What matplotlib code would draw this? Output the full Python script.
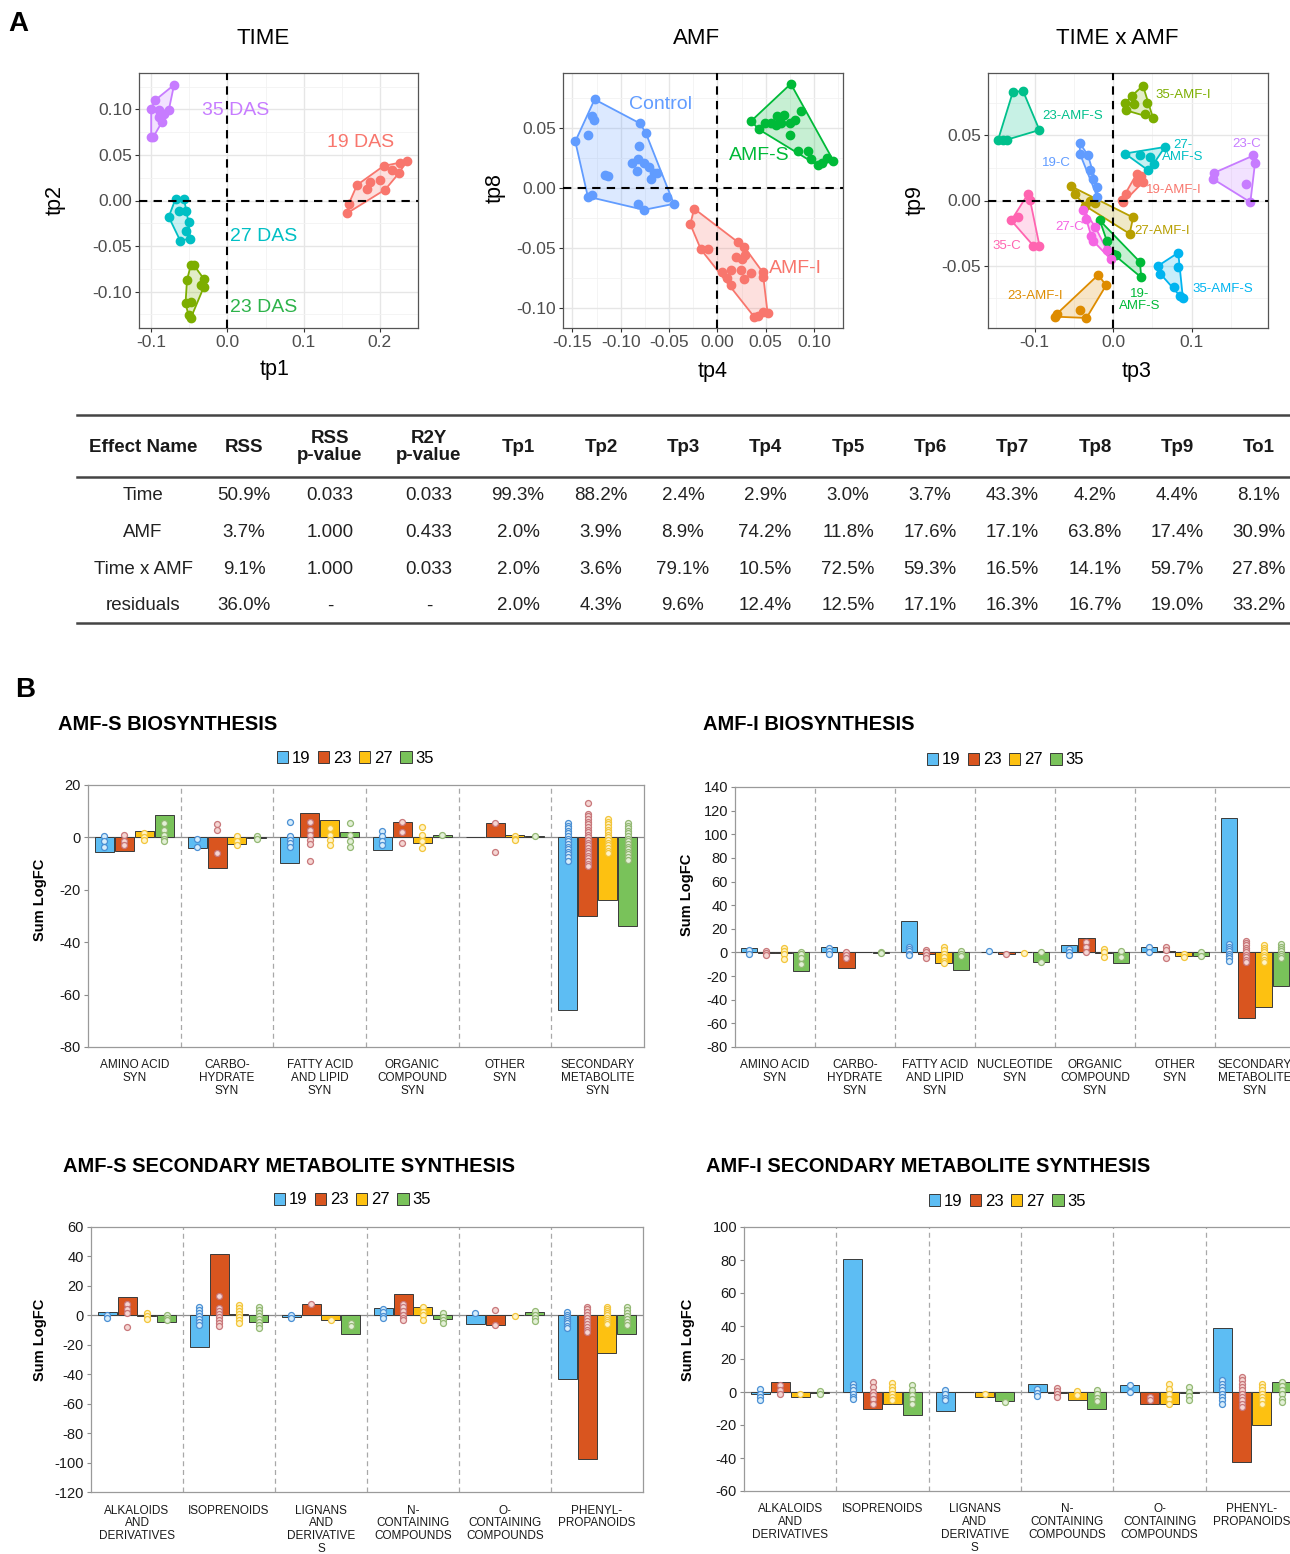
import numpy as np
import matplotlib.pyplot as plt
from matplotlib.patches import Patch, Polygon
from matplotlib.lines import Line2D
from matplotlib.ticker import FormatStrFormatter

plt.rcParams['font.family'] = ['Liberation Sans', 'DejaVu Sans']
plt.rcParams['axes.unicode_minus'] = False

W, H = 1290, 1554

# ---------------- panel A : OPLS score plots ----------------
# TIME (tp1, tp2)
das19 = [(0.235, 0.043), (0.227, 0.041), (0.205, 0.038), (0.216, 0.033), (0.200, 0.022), (0.187, 0.020),
         (0.183, 0.013), (0.170, 0.017), (0.207, 0.012), (0.159, -0.004), (0.157, -0.014), (0.225, 0.030)]
das23 = [(-0.048, -0.071), (-0.044, -0.071), (-0.031, -0.086), (-0.053, -0.087), (-0.035, -0.093),
         (-0.031, -0.095), (-0.055, -0.113), (-0.048, -0.111), (-0.051, -0.126), (-0.048, -0.129)]
das27 = [(-0.068, 0.002), (-0.057, 0.002), (-0.064, -0.011), (-0.055, -0.011), (-0.077, -0.018),
         (-0.051, -0.024), (-0.062, -0.044), (-0.049, -0.042), (-0.055, -0.033)]
das35 = [(-0.070, 0.127), (-0.095, 0.110), (-0.100, 0.101), (-0.090, 0.099), (-0.077, 0.099), (-0.083, 0.095),
         (-0.086, 0.086), (-0.097, 0.070), (-0.100, 0.070), (-0.090, 0.092)]
time_labels = ['19 DAS', '23 DAS', '27 DAS', '35 DAS']
time_label_pos = [(0.174, 0.064), (0.048, -0.118), (0.048, -0.040), (0.011, 0.099)]

# AMF (tp4, tp8)
amf_control = [(-0.127, 0.074), (-0.130, 0.060), (-0.128, 0.057), (-0.134, 0.044), (-0.147, 0.039), (-0.080, 0.054),
               (-0.074, 0.046), (-0.081, 0.035), (-0.082, 0.024), (-0.088, 0.021), (-0.076, 0.021), (-0.071, 0.018),
               (-0.083, 0.014), (-0.116, 0.011), (-0.113, 0.010), (-0.066, 0.013), (-0.062, 0.013), (-0.069, 0.008),
               (-0.130, -0.006), (-0.134, -0.007), (-0.052, -0.007), (-0.045, -0.013), (-0.082, -0.013), (-0.076, -0.018)]
amf_s = [(0.076, 0.087), (0.035, 0.056), (0.043, 0.049), (0.049, 0.054), (0.062, 0.060), (0.069, 0.061),
         (0.075, 0.054), (0.066, 0.054), (0.080, 0.057), (0.087, 0.064), (0.075, 0.044), (0.083, 0.031),
         (0.094, 0.031), (0.097, 0.024), (0.108, 0.021), (0.113, 0.025), (0.120, 0.023), (0.104, 0.019),
         (0.055, 0.054), (0.061, 0.053)]
amf_i = [(-0.024, -0.017), (-0.028, -0.030), (-0.017, -0.051), (-0.010, -0.051), (0.021, -0.045), (0.028, -0.049),
         (0.029, -0.056), (0.019, -0.057), (0.026, -0.059), (0.014, -0.068), (0.024, -0.068), (0.035, -0.071),
         (0.047, -0.070), (0.047, -0.074), (0.005, -0.070), (0.010, -0.075), (0.028, -0.076), (0.014, -0.081),
         (0.038, -0.107), (0.047, -0.103), (0.052, -0.104), (0.042, -0.106)]
amf_labels = ['Control', 'AMF-S', 'AMF-I']
amf_label_pos = [(-0.059, 0.070), (0.043, 0.027), (0.081, -0.067)]

# TIME x AMF (tp3, tp9)
t19_amf_i = [(0.030, 0.0204), (0.036, 0.0184), (0.030, 0.014), (0.038, 0.014), (0.017, 0.005), (0.011, 0.0005), (0.013, -0.0013)]
t23_amf_i = [(-0.019, -0.057), (-0.009, -0.065), (-0.072, -0.087), (-0.0745, -0.089), (-0.0425, -0.084), (-0.034, -0.090)]
t27_amf_i = [(-0.054, 0.011), (-0.049, 0.005), (-0.030, 0.0), (-0.023, -0.002), (0.0255, -0.013), (0.021, -0.0255), (-0.036, -0.004)]
t35_amf_i = [(0.038, 0.088), (0.0235, 0.080), (0.043, 0.075), (0.015, 0.0745), (0.017, 0.069), (0.040, 0.066), (0.051, 0.063), (0.026, 0.074)]
t19_amf_s = [(-0.017, -0.0153), (-0.008, -0.031), (0.004, -0.042), (0.034, -0.047), (0.036, -0.059), (0.0, -0.041)]
t23_amf_s = [(-0.128, 0.083), (-0.115, 0.084), (-0.094, 0.054), (-0.147, 0.046), (-0.136, 0.0465), (-0.140, 0.046)]
t27_amf_s = [(0.015, 0.036), (0.034, 0.035), (0.066, 0.041), (0.047, 0.033), (0.045, 0.023), (0.0515, 0.028)]
t35_amf_s = [(0.083, -0.040), (0.0575, -0.050), (0.060, -0.056), (0.083, -0.051), (0.085, -0.073), (0.089, -0.075), (0.077, -0.066)]
t19_c = [(-0.0425, 0.044), (-0.0425, 0.036), (-0.032, 0.0345), (-0.030, 0.023), (-0.0255, 0.0166), (-0.020, 0.010), (-0.020, 0.0025)]
t23_c = [(0.179, 0.0345), (0.181, 0.029), (0.128, 0.021), (0.127, 0.0166), (0.1695, 0.0128), (0.175, -0.0013)]
t27_c = [(-0.038, -0.007), (-0.034, -0.014), (-0.023, -0.020), (-0.028, -0.027), (-0.0255, -0.031), (-0.008, -0.038), (-0.003, -0.045)]
t35_c = [(-0.109, 0.0046), (-0.106, 0.0005), (-0.130, -0.0153), (-0.121, -0.0128), (-0.102, -0.0345), (-0.094, -0.0345)]
txa_labels = ['19-AMF-I', '23-AMF-I', '27-AMF-I', '35-AMF-I', '19-\nAMF-S', '23-AMF-S', '27-\nAMF-S', '35-AMF-S',
              '19-C', '23-C', '27-C', '35-C']
txa_label_pos = [(0.077, 0.0077), (-0.100, -0.0735), (0.062, -0.023), (0.089, 0.081), (0.034, -0.076), (-0.051, 0.065),
                 (0.089, 0.038), (0.1405, -0.0676), (-0.072, 0.029), (0.170, 0.043), (-0.056, -0.0204), (-0.136, -0.0352)]

# ---------------- panel A : table ----------------
table_header = ['Effect Name', 'RSS', 'RSS\np-value', 'R2Y\np-value', 'Tp1', 'Tp2', 'Tp3', 'Tp4', 'Tp5',
                'Tp6', 'Tp7', 'Tp8', 'Tp9', 'To1']
row_time = ['Time', '50.9%', '0.033', '0.033', '99.3%', '88.2%', '2.4%', '2.9%', '3.0%', '3.7%', '43.3%', '4.2%', '4.4%', '8.1%']
row_amf = ['AMF', '3.7%', '1.000', '0.433', '2.0%', '3.9%', '8.9%', '74.2%', '11.8%', '17.6%', '17.1%', '63.8%', '17.4%', '30.9%']
row_txa = ['Time x AMF', '9.1%', '1.000', '0.033', '2.0%', '3.6%', '79.1%', '10.5%', '72.5%', '59.3%', '16.5%', '14.1%', '59.7%', '27.8%']
row_res = ['residuals', '36.0%', '-', '-', '2.0%', '4.3%', '9.6%', '12.4%', '12.5%', '17.1%', '16.3%', '16.7%', '19.0%', '33.2%']

# ---------------- panel B : Sum LogFC bars ----------------
series_names = ['19', '23', '27', '35']

bio_s_cats = ['AMINO ACID\nSYN', 'CARBO-\nHYDRATE\nSYN', 'FATTY ACID\nAND LIPID\nSYN', 'ORGANIC\nCOMPOUND\nSYN',
              'OTHER\nSYN', 'SECONDARY\nMETABOLITE\nSYN']
bio_s_19 = [-5.5, -4.2, -9.9, -4.7, 0, -66]
bio_s_23 = [-5.2, -11.6, 9.4, 6.0, 5.6, -30]
bio_s_27 = [2.3, -2.4, 6.6, -2.3, 0.8, -24]
bio_s_35 = [8.4, -0.3, 1.9, 1.0, 0.6, -34]
bio_s_dots_19 = [[0.5, -1.5, -3.5], [-0.5, -3.5], [6.0, 0.5, -1.0, -2.0, -3.5], [2.5, 0.5, -1.5, -3.0], [],
                 [5.5, 4.5, 3.5, 2.5, 1.5, 0.5, -0.5, -1.5, -2.5, -3.5, -4.5, -5.5, -6.5, -7.5, -9.0]]
bio_s_dots_23 = [[1.0, -1.5, -3.0], [5.0, 3.0, -6.0], [6.0, 3.0, 1.0, -1.0, -2.5, -9.0], [6.0, 2.0, -2.0], [5.5, -5.5],
                 [13, 9, 8, 7, 6, 5, 4, 3, 2, 1, 0, -1, -2, -3, -4, -5, -6, -7, -8, -9, -10, -11]]
bio_s_dots_27 = [[1.5, 0.0, -1.0], [0.5, -1.5, -3.0], [3.5, 1.0, -1.0, -3.0], [4.0, 1.0, -1.5, -4.0], [0.5, -0.5, -1.0],
                 [7, 6, 5, 4, 3, 2, 1, 0, -1, -2, -3, -4, -5, -6]]
bio_s_dots_35 = [[5.5, 3.0, 1.0, -0.5, -1.5], [0.5, -0.5], [5.5, 1.0, -1.5, -3.5], [1.0], [0.5],
                 [5.5, 4.5, 3.5, 2.5, 1.5, 0.5, -0.5, -1.5, -2.5, -3.5, -4.5, -5.5, -6.5, -7.5, -8.5]]

bio_i_cats = ['AMINO ACID\nSYN', 'CARBO-\nHYDRATE\nSYN', 'FATTY ACID\nAND LIPID\nSYN', 'NUCLEOTIDE\nSYN',
              'ORGANIC\nCOMPOUND\nSYN', 'OTHER\nSYN', 'SECONDARY\nMETABOLITE\nSYN']
bio_i_19 = [3.7, 5.0, 27.0, 0.5, 6.5, 5.0, 114]
bio_i_23 = [-0.5, -13.3, -1.2, -1.5, 12.4, 1.2, -55.6]
bio_i_27 = [-0.5, 0, -9.0, 0, -0.5, -3.4, -46]
bio_i_35 = [-16, -0.5, -15, -8.5, -9, -3.4, -28.7]
bio_i_dots_19 = [[2, -1], [4, 1.5, -1], [5, 3, 1, -1, -2.5], [1], [3, 0.5, -2.5], [5, 0.5], [7, 5, 3, 1, -1, -3, -5, -7]]
bio_i_dots_23 = [[1.5, -0.5, -2], [0, -2, -4.5], [2, 0, -2, -4.5], [-1], [9, 5, 0.5], [5, 2, -5],
                 [10, 8, 6, 4, 2, 0, -2, -4, -6, -8]]
bio_i_dots_27 = [[4, 1.5, -1, -5.5], [], [5, 2, -1, -4, -7, -9], [-0.5], [3, 0, -4], [-1.5, -3.5],
                 [6, 4, 2, 0, -2, -4, -6, -8]]
bio_i_dots_35 = [[0.5, -1.5, -4.5, -9.5], [0.5, -0.5], [1, -1, -3], [0, -8], [1, -4], [0, -3], [7, 5, 3, 1, -1, -3, -5]]

sec_cats = ['ALKALOIDS\nAND\nDERIVATIVES', 'ISOPRENOIDS', 'LIGNANS\nAND\nDERIVATIVE\nS', 'N-\nCONTAINING\nCOMPOUNDS',
            'O-\nCONTAINING\nCOMPOUNDS', 'PHENYL-\nPROPANOIDS']
sec_s_19 = [2.3, -21.4, -1.1, 4.7, -5.9, -43.4]
sec_s_23 = [12.2, 41.6, 7.4, 14.2, -6.3, -97.9]
sec_s_27 = [-0.5, 1.1, -3.4, 5.4, 0, -25.7]
sec_s_35 = [-4.7, -4.3, -12.4, -2.7, 2.0, -12.4]
sec_s_dots_19 = [[0.5, -1.5], [5.5, 3.5, 1.5, -0.5, -2.5, -4.5, -6.5], [0.5, -1.5], [4.5, 2, -0.5, -2], [1.5],
                 [2, 0.5, -1, -2.5, -4, -5.5, -7, -8.5]]
sec_s_dots_23 = [[8, 4.5, 1.5, -8], [13, 5, 3, 1, -1, -3, -5, -7], [7.5], [7.5, 5.5, 3, 0.5, -1.5, -3], [3.5, -6.5],
                 [6, 4, 2, 0, -2, -4, -6, -8, -10, -11.5]]
sec_s_dots_27 = [[1.5, -0.5, -2.5], [7, 5, 3, 1, -1, -3, -5], [-3.5], [5.5, 2.5, 0, -3], [-0.5],
                 [6, 4.5, 3, 1.5, 0, -1.5, -3, -4.5, -6]]
sec_s_dots_35 = [[0.5, -1.5, -3], [5.5, 3.5, 1.5, -0.5, -2.5, -4.5, -6.5, -8.5], [-5, -7], [1.5, -1, -3, -5],
                 [3, 0.5, -2, -4], [5.5, 3.5, 1.5, -0.5, -2.5, -4.5, -6.5]]

sec_i_19 = [-1.4, 80.9, -11.4, 4.9, 4.3, 38.8]
sec_i_23 = [5.9, -10.2, 0, -0.8, -7.3, -42.3]
sec_i_27 = [-2.8, -7.1, -3.3, -4.9, -7.1, -19.9]
sec_i_35 = [-0.8, -13.8, -5.7, -10, -0.6, 5.9]
sec_i_dots_19 = [[2, -1, -3, -5], [5, 3, 1, -1, -3, -4], [1, -1.5, -3.5, -5], [2, -0.5, -2.5], [4, 0],
                 [7, 5, 3, 1, -1, -3, -5, -7.5]]
sec_i_dots_23 = [[4.5, 1.5, -1.5], [6, 3, 0, -2, -4, -7], [], [2.5, 0.5, -1.5, -3], [-3, -5],
                 [9, 7, 5, 3, 1, -1, -3, -5, -7, -9]]
sec_i_dots_27 = [[-1.5], [5.5, 3, 1, -1, -3, -5], [-1.5], [0.5, -2], [5, 2, -1, -4, -7.5], [5, 3, 1, -1, -3, -5, -7.5]]
sec_i_dots_35 = [[0.5, -1], [4, 1, -2, -4, -7], [-6], [1.5, -1, -3.5, -5.5], [3, 0, -2.5, -5], [6, 3.5, 1, -1.5, -4, -6]]

# ---------------- styling ----------------
bar_cols = ['#5DBDF3', '#D9551F', '#FDC111', '#79C25A']
dot_edge = ['#4A8FD4', '#C8777A', '#F3C53A', '#93B873']
dot_face = ['#D7EDFB', '#F5D6D3', '#FFF4C8', '#E3F0D7']
offsets = [-0.322, -0.107, 0.107, 0.322]

fig = plt.figure(figsize=(W / 100, H / 100), dpi=100)


def box(x0, y0, x1, y1):
    return [x0 / W, 1 - y1 / H, (x1 - x0) / W, (y1 - y0) / H]


def ftext(x, y, s, **kw):
    fig.text(x / W, 1 - y / H, s, **kw)


def hull(pts):
    p = sorted(set(pts))
    if len(p) < 3:
        return p

    def cross(o, a, b):
        return (a[0] - o[0]) * (b[1] - o[1]) - (a[1] - o[1]) * (b[0] - o[0])
    lower, upper = [], []
    for q in p:
        while len(lower) >= 2 and cross(lower[-2], lower[-1], q) <= 0:
            lower.pop()
        lower.append(q)
    for q in reversed(p):
        while len(upper) >= 2 and cross(upper[-2], upper[-1], q) <= 0:
            upper.pop()
        upper.append(q)
    return lower[:-1] + upper[:-1]


def score_panel(bx, groups, colors, xlim, ylim, xticks, yticks, xfmt, yfmt, labels, lpos, lcolors, lsize):
    ax = fig.add_axes(box(*bx))
    ax.set_xticks(xticks)
    ax.set_yticks(yticks)
    dx = xticks[1] - xticks[0]
    dy = yticks[1] - yticks[0]
    ax.set_xticks([t + dx / 2 for t in [xticks[0] - dx] + list(xticks)], minor=True)
    ax.set_yticks([t + dy / 2 for t in [yticks[0] - dy] + list(yticks)], minor=True)
    ax.set_xlim(xlim)
    ax.set_ylim(ylim)
    ax.xaxis.set_major_formatter(FormatStrFormatter(xfmt))
    ax.yaxis.set_major_formatter(FormatStrFormatter(yfmt))
    ax.grid(which='major', color='#E6E6E6', lw=1.0)
    ax.grid(which='minor', color='#F2F2F2', lw=0.6)
    ax.set_axisbelow(True)
    ax.tick_params(which='minor', length=0)
    ax.tick_params(which='major', length=3, color='#333333', labelcolor='#4D4D4D', labelsize=12.5, pad=2)
    for s in ax.spines.values():
        s.set_color('#555555')
        s.set_linewidth(0.9)
    for pts, c in zip(groups, colors):
        h = hull(pts)
        ax.add_patch(Polygon(h, closed=True, fc=c, alpha=0.22, ec='none', zorder=2))
        ax.add_patch(Polygon(h, closed=True, fill=False, ec=c, lw=1.3, zorder=3))
        arr = np.array(pts)
        ax.plot(arr[:, 0], arr[:, 1], 'o', color=c, ms=6, zorder=4)
    ax.axhline(0, color='black', ls=(0, (4, 3)), lw=1.5, zorder=5)
    ax.axvline(0, color='black', ls=(0, (4, 3)), lw=1.5, zorder=5)
    for s, (x, y), c in zip(labels, lpos, lcolors):
        ax.text(x, y, s, color=c, fontsize=lsize, ha='center', va='center', linespacing=1.0, zorder=6)
    return ax


ftext(18, 24, 'A', fontsize=20, weight='bold', ha='center', va='center')
ftext(25, 690, 'B', fontsize=20, weight='bold', ha='center', va='center')

# TIME
score_panel((139, 73, 418, 328), [das19, das23, das27, das35], ['#F8766D', '#7CAE00', '#00BFC4', '#C77CFF'],
            (-0.116, 0.25), (-0.14, 0.14), [-0.1, 0.0, 0.1, 0.2], [-0.10, -0.05, 0.0, 0.05, 0.10], '%.1f', '%.2f',
            time_labels, time_label_pos, ['#F8766D', '#2DB34A', '#00BFC4', '#C77CFF'], 14)
ftext(263, 38, 'TIME', fontsize=16, ha='center', va='center')
ftext(275, 370, 'tp1', fontsize=15.5, ha='center', va='center')
ftext(55, 200, 'tp2', fontsize=15.5, ha='center', va='center', rotation=90)

# AMF
score_panel((563, 73, 843, 328), [amf_control, amf_s, amf_i], ['#619CFF', '#00BA38', '#F8766D'],
            (-0.1597, 0.130), (-0.1164, 0.096), [-0.15, -0.10, -0.05, 0.0, 0.05, 0.10], [-0.10, -0.05, 0.0, 0.05],
            '%.2f', '%.2f', amf_labels, amf_label_pos, ['#619CFF', '#00BA38', '#F8766D'], 14)
ftext(697, 38, 'AMF', fontsize=16, ha='center', va='center')
ftext(713, 372, 'tp4', fontsize=15.5, ha='center', va='center')
ftext(495, 188, 'tp8', fontsize=15.5, ha='center', va='center', rotation=90)

# TIME x AMF
txa_groups = [t19_amf_i, t23_amf_i, t27_amf_i, t35_amf_i, t19_amf_s, t23_amf_s, t27_amf_s, t35_amf_s,
              t19_c, t23_c, t27_c, t35_c]
txa_cols = ['#F8766D', '#DE8C00', '#B79F00', '#7CAE00', '#00BA38', '#00C08B', '#00BFC4', '#00B4F0',
            '#619CFF', '#C77CFF', '#F564E3', '#FF64B0']
score_panel((988, 73, 1268, 328), txa_groups, txa_cols, (-0.1596, 0.1975), (-0.0977, 0.0977),
            [-0.1, 0.0, 0.1], [-0.05, 0.0, 0.05], '%.1f', '%.2f', txa_labels, txa_label_pos, txa_cols, 9.5)
ftext(1117, 38, 'TIME x AMF', fontsize=16, ha='center', va='center')
ftext(1137, 372, 'tp3', fontsize=15.5, ha='center', va='center')
ftext(915, 200, 'tp9', fontsize=15.5, ha='center', va='center', rotation=90)

# table
col_x = [143, 244, 330, 429, 518, 601, 683, 765, 848, 930, 1012, 1095, 1177, 1259]
for yy in (415, 477, 623):
    fig.add_artist(Line2D([77 / W, 1.0], [1 - yy / H] * 2, color='#444444', lw=1.8))
for x, s in zip(col_x, table_header):
    ftext(x, 447, s, fontsize=13.5, weight='bold', ha='center', va='center', linespacing=1.05, color='#1A1A1A')
for yy, row in zip([496, 532, 569, 606], [row_time, row_amf, row_txa, row_res]):
    for x, s in zip(col_x, row):
        ftext(x, yy, s, fontsize=13.5, ha='center', va='center', color='#222222')


# bar panels
def bar_panel(bx, title, title_xy, cats, series, dots, ylim, yticks, ylab_xy, leg_xy):
    ax = fig.add_axes(box(*bx))
    n = len(cats)
    x = np.arange(n)
    ax.axhline(0, color='#8C8C8C', lw=0.9, zorder=1)
    for k in range(n - 1):
        ax.axvline(k + 0.5, color='#A8A8A8', ls=(0, (4, 3)), lw=0.9, zorder=1)
    for j in range(4):
        xs = x + offsets[j]
        ax.bar(xs, series[j], width=0.205, color=bar_cols[j], edgecolor='#3A3A3A', lw=0.7, zorder=2)
        for k in range(n):
            d = dots[j][k]
            if d:
                ax.plot([xs[k]] * len(d), d, 'o', ms=4.3, mfc=dot_face[j], mec=dot_edge[j], mew=0.9, zorder=3)
    ax.set_xlim(-0.5, n - 0.5)
    ax.set_ylim(ylim)
    ax.set_yticks(yticks)
    ax.set_xticks(x)
    ax.set_xticklabels(cats, fontsize=8.5, linespacing=1.08, color='#1A1A1A')
    ax.tick_params(axis='x', length=0, pad=9)
    ax.tick_params(axis='y', length=3, color='#8C8C8C', labelsize=10.5, labelcolor='#1A1A1A', pad=2)
    for s in ax.spines.values():
        s.set_color('#9A9A9A')
        s.set_linewidth(0.9)
    ftext(title_xy[0], title_xy[1], title, fontsize=14.5, weight='bold', ha='left', va='center')
    ftext(ylab_xy[0], ylab_xy[1], 'Sum LogFC', fontsize=10.5, weight='bold', rotation=90, ha='center', va='center')
    handles = [Patch(fc=bar_cols[j], ec='#3A3A3A', lw=0.7, label=series_names[j]) for j in range(4)]
    fig.legend(handles=handles, loc='center', bbox_to_anchor=(leg_xy[0] / W, 1 - leg_xy[1] / H), ncol=4,
               frameon=False, fontsize=12, handlelength=0.7, handleheight=0.7, handletextpad=0.2,
               columnspacing=0.45, borderpad=0)
    return ax


bar_panel((88, 785, 644, 1047), 'AMF-S BIOSYNTHESIS', (58, 725), bio_s_cats,
          [bio_s_19, bio_s_23, bio_s_27, bio_s_35], [bio_s_dots_19, bio_s_dots_23, bio_s_dots_27, bio_s_dots_35],
          (-80, 20), list(range(-80, 21, 20)), (40, 900), (355, 758))
bar_panel((735, 787, 1295, 1047), 'AMF-I BIOSYNTHESIS', (703, 725), bio_i_cats,
          [bio_i_19, bio_i_23, bio_i_27, bio_i_35], [bio_i_dots_19, bio_i_dots_23, bio_i_dots_27, bio_i_dots_35],
          (-80, 140), list(range(-80, 141, 20)), (687, 895), (1005, 760))
bar_panel((91, 1227, 643, 1492), 'AMF-S SECONDARY METABOLITE SYNTHESIS', (63, 1166), sec_cats,
          [sec_s_19, sec_s_23, sec_s_27, sec_s_35], [sec_s_dots_19, sec_s_dots_23, sec_s_dots_27, sec_s_dots_35],
          (-120, 60), list(range(-120, 61, 20)), (40, 1340), (352, 1200))
bar_panel((744, 1227, 1298, 1491), 'AMF-I SECONDARY METABOLITE SYNTHESIS', (706, 1166), sec_cats,
          [sec_i_19, sec_i_23, sec_i_27, sec_i_35], [sec_i_dots_19, sec_i_dots_23, sec_i_dots_27, sec_i_dots_35],
          (-60, 100), list(range(-60, 101, 20)), (688, 1340), (1007, 1201))

fig.savefig('out.png', dpi=100)
